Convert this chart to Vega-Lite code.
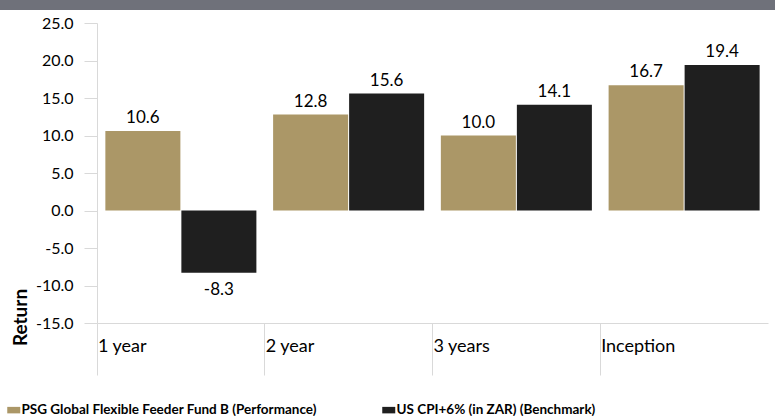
{
  "$schema": "https://vega.github.io/schema/vega-lite/v6.json",
  "padding": 0,
  "spacing": 5,
  "background": "white",
  "config": {
    "font": "Lato",
    "view": {"stroke": null},
    "locale": {"number": {"decimal": ".", "thousands": ",", "grouping": [3], "currency": ["$", ""], "minus": "-"}}
  },
  "vconcat": [
    {
      "width": 671,
      "height": 10,
      "data": {"values": [{"start": 0, "end": 1}]},
      "mark": {"type": "rect", "color": "#6f717a", "clip": false},
      "encoding": {
        "x": {"field": "start", "type": "quantitative", "scale": {"domain": [0, 1], "range": [-97, 678]}, "axis": null},
        "x2": {"field": "end"}
      }
    },
    {
      "width": 671,
      "height": 300,
      "data": {
        "values": [
          {"period": "1 year", "series": "PSG Global Flexible Feeder Fund B (Performance)", "value": 10.6},
          {"period": "1 year", "series": "US CPI+6% (in ZAR) (Benchmark)", "value": -8.3},
          {"period": "2 year", "series": "PSG Global Flexible Feeder Fund B (Performance)", "value": 12.8},
          {"period": "2 year", "series": "US CPI+6% (in ZAR) (Benchmark)", "value": 15.6},
          {"period": "3 years", "series": "PSG Global Flexible Feeder Fund B (Performance)", "value": 10.0},
          {"period": "3 years", "series": "US CPI+6% (in ZAR) (Benchmark)", "value": 14.1},
          {"period": "Inception", "series": "PSG Global Flexible Feeder Fund B (Performance)", "value": 16.7},
          {"period": "Inception", "series": "US CPI+6% (in ZAR) (Benchmark)", "value": 19.4}
        ]
      },
      "encoding": {
        "x": {
          "field": "period",
          "type": "nominal",
          "sort": ["1 year", "2 year", "3 years", "Inception"],
          "scale": {"paddingInner": 0, "paddingOuter": 0},
          "axis": {
            "title": null,
            "bandPosition": 0,
            "labelAngle": 0,
            "labelAlign": "left",
            "labelBaseline": "top",
            "labelPadding": -38,
            "labelOffset": -83,
            "labelFontSize": 18,
            "labelColor": "#000000",
            "tickSize": 52,
            "tickColor": "#d9d9d9",
            "domainColor": "#d9d9d9",
            "grid": false
          }
        },
        "xOffset": {
          "field": "series",
          "type": "nominal",
          "scale": {"paddingInner": 0.013, "paddingOuter": 0.11}
        },
        "y": {
          "field": "value",
          "type": "quantitative",
          "scale": {"domain": [-15, 25], "nice": false, "zero": true},
          "axis": {
            "title": "Return",
            "values": [-15, -10, -5, 0, 5, 10, 15, 20, 25],
            "format": ".1f",
            "grid": false,
            "tickSize": 13,
            "tickColor": "#d9d9d9",
            "domainColor": "#d9d9d9",
            "labelFontSize": 16,
            "labelColor": "#000000",
            "labelPadding": 11,
            "titleFontSize": 19,
            "titleFontWeight": "bold",
            "titleColor": "#000000",
            "titleAngle": -90,
            "titleAlign": "center",
            "titleBaseline": "middle",
            "titleX": -77,
            "titleY": 294
          }
        }
      },
      "layer": [
        {
          "mark": {"type": "bar"},
          "encoding": {
            "color": {
              "field": "series",
              "type": "nominal",
              "scale": {
                "domain": ["PSG Global Flexible Feeder Fund B (Performance)", "US CPI+6% (in ZAR) (Benchmark)"],
                "range": ["#ab9767", "#1f1f1f"]
              },
              "legend": {
                "orient": "none",
                "legendX": -97,
                "legendY": 396,
                "direction": "horizontal",
                "title": null,
                "padding": 7,
                "labelFontSize": 13.5,
                "labelFontWeight": "bold",
                "labelColor": "#000000",
                "labelOffset": 1,
                "labelLimit": 400,
                "symbolType": "M-1,-0.5H1V0.5H-1Z",
                "symbolSize": 169,
                "symbolStrokeWidth": 0,
                "columnPadding": 65
              }
            }
          }
        },
        {
          "transform": [{"filter": "datum.value >= 0"}],
          "mark": {"type": "text", "baseline": "alphabetic", "dy": -8, "fontSize": 17, "color": "#000000"},
          "encoding": {"text": {"field": "value", "type": "quantitative", "format": ".1f"}}
        },
        {
          "transform": [{"filter": "datum.value < 0"}],
          "mark": {"type": "text", "baseline": "alphabetic", "dy": 22, "fontSize": 17, "color": "#000000"},
          "encoding": {"text": {"field": "value", "type": "quantitative", "format": ".1f"}}
        },
        {
          "data": {"values": [{"period": "Inception"}]},
          "mark": {"type": "rule", "color": "#d9d9d9"},
          "encoding": {
            "x": {"field": "period", "type": "nominal", "sort": ["1 year", "2 year", "3 years", "Inception"], "bandPosition": 1},
            "xOffset": null,
            "y": {"datum": -15},
            "y2": {"datum": -22}
          }
        }
      ]
    }
  ]
}
